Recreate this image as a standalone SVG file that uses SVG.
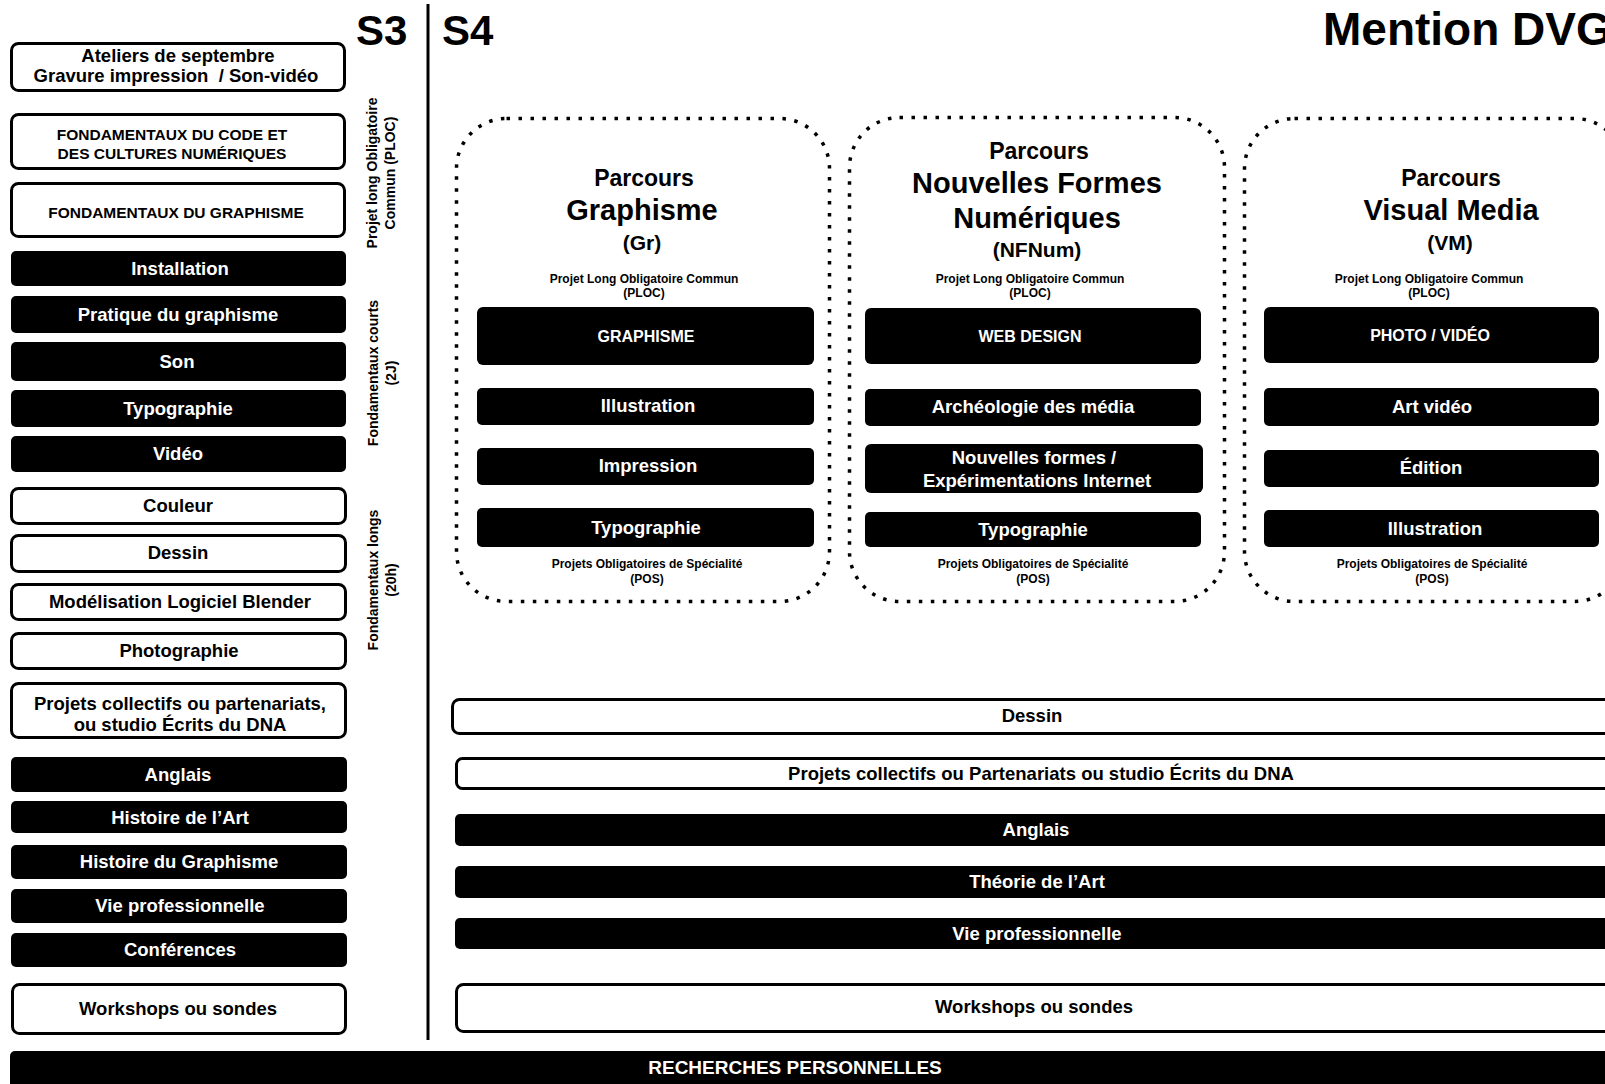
<svg xmlns="http://www.w3.org/2000/svg" width="1605" height="1084" viewBox="0 0 1605 1084">
<style>
text { font-family: "Liberation Sans", Arial, sans-serif; font-weight: bold; text-anchor: middle; fill: #000; }
.w { fill: #fff; stroke: #000; stroke-width: 3; }
.b { fill: #000; }
.l { font-size: 18.5px; }
.c { font-size: 15.5px; }
.s { font-size: 12px; }
.i { font-size: 16px; }
.wt { fill: #fff; }
.rot { font-size: 14px; }
.big { font-size: 42px; text-anchor: start; }
.dot { fill: none; stroke: #000; stroke-width: 3.5; stroke-dasharray: 3.5 8.5; }
.p1 { font-size: 23px; }
.p2 { font-size: 29px; }
.p3 { font-size: 21px; }
</style>
<rect width="1605" height="1084" fill="#fff"/>

<g id="titles">
<text class="big" x="356" y="45">S3</text>
<text class="big" x="442" y="45">S4</text>
<text class="big" x="1323" y="45" style="font-size:46px">Mention DVG</text>
</g>

<g id="connectors">
<line x1="428" y1="4" x2="428" y2="1040" stroke="#000" stroke-width="3"/>
</g>

<g id="side-labels">
<text class="rot" transform="translate(377,173) rotate(-90)">Projet long Obligatoire</text>
<text class="rot" transform="translate(395,173) rotate(-90)">Commun (PLOC)</text>
<text class="rot" transform="translate(378,373) rotate(-90)">Fondamentaux courts</text>
<text class="rot" transform="translate(396,373) rotate(-90)">(2J)</text>
<text class="rot" transform="translate(378,580) rotate(-90)">Fondamentaux longs</text>
<text class="rot" transform="translate(396,580) rotate(-90)">(20h)</text>
</g>

<!-- S3 column -->
<g id="ateliers"><rect class="w" x="11.5" y="43.5" width="333" height="47" rx="7"/><text class="l" x="178" y="62">Ateliers de septembre</text><text class="l" x="176" y="82" xml:space="preserve">Gravure impression  / Son-vidéo</text></g>
<g id="fond-code"><rect class="w" x="11.5" y="114.5" width="333" height="54" rx="7"/><text class="c" x="172" y="140">FONDAMENTAUX DU CODE ET</text><text class="c" x="172" y="159">DES CULTURES NUMÉRIQUES</text></g>
<g id="fond-graph"><rect class="w" x="11.5" y="183.5" width="333" height="53" rx="7"/><text class="c" x="176" y="218">FONDAMENTAUX DU GRAPHISME</text></g>
<g id="installation"><rect class="b" x="11" y="251" width="335" height="35" rx="5"/><text class="l wt" x="180" y="275">Installation</text></g>
<g id="pratique"><rect class="b" x="11" y="296" width="335" height="37" rx="5"/><text class="l wt" x="178" y="321">Pratique du graphisme</text></g>
<g id="son"><rect class="b" x="11" y="342" width="335" height="39" rx="5"/><text class="l wt" x="177" y="368">Son</text></g>
<g id="typo-s3"><rect class="b" x="11" y="390" width="335" height="37" rx="5"/><text class="l wt" x="178" y="415">Typographie</text></g>
<g id="video"><rect class="b" x="11" y="436" width="335" height="36" rx="5"/><text class="l wt" x="178" y="460">Vidéo</text></g>
<g id="couleur"><rect class="w" x="11.5" y="488.5" width="334" height="35" rx="7"/><text class="l" x="178" y="512">Couleur</text></g>
<g id="dessin-s3"><rect class="w" x="11.5" y="535.5" width="334" height="36" rx="7"/><text class="l" x="178" y="559">Dessin</text></g>
<g id="blender"><rect class="w" x="11.5" y="584.5" width="334" height="35" rx="7"/><text class="l" x="180" y="608">Modélisation Logiciel Blender</text></g>
<g id="photo-s3"><rect class="w" x="11.5" y="633.5" width="334" height="35" rx="7"/><text class="l" x="179" y="657">Photographie</text></g>
<g id="projets-s3"><rect class="w" x="11.5" y="683.5" width="334" height="54" rx="7"/><text class="l" x="180" y="710">Projets collectifs ou partenariats,</text><text class="l" x="180" y="731">ou studio Écrits du DNA</text></g>
<g id="anglais-s3"><rect class="b" x="11" y="757" width="336" height="35" rx="5"/><text class="l wt" x="178" y="781">Anglais</text></g>
<g id="hda"><rect class="b" x="11" y="801" width="336" height="32" rx="5"/><text class="l wt" x="180" y="824">Histoire de l’Art</text></g>
<g id="hdg"><rect class="b" x="11" y="845" width="336" height="34" rx="5"/><text class="l wt" x="179" y="868">Histoire du Graphisme</text></g>
<g id="viepro-s3"><rect class="b" x="11" y="889" width="336" height="34" rx="5"/><text class="l wt" x="180" y="912">Vie professionnelle</text></g>
<g id="conf"><rect class="b" x="11" y="933" width="336" height="34" rx="5"/><text class="l wt" x="180" y="956">Conférences</text></g>
<g id="workshops-s3"><rect class="w" x="12.5" y="984.5" width="333" height="49" rx="7"/><text class="l" x="178" y="1015">Workshops ou sondes</text></g>

<!-- Parcours Graphisme -->
<g id="parcours-gr">
<rect class="dot" x="456.5" y="118.5" width="373" height="483" rx="50"/>
<text class="p1" x="644" y="186">Parcours</text>
<text class="p2" x="642" y="220">Graphisme</text>
<text class="p3" x="642" y="250">(Gr)</text>
<text class="s" x="644" y="283">Projet Long Obligatoire Commun</text>
<text class="s" x="644" y="297">(PLOC)</text>
<rect class="b" x="477" y="307" width="337" height="58" rx="6"/><text class="i wt" x="646" y="342">GRAPHISME</text>
<rect class="b" x="477" y="388" width="337" height="37" rx="5"/><text class="l wt" x="648" y="412">Illustration</text>
<rect class="b" x="477" y="448" width="337" height="37" rx="5"/><text class="l wt" x="648" y="472">Impression</text>
<rect class="b" x="477" y="508" width="337" height="39" rx="5"/><text class="l wt" x="646" y="534">Typographie</text>
<text class="s" x="647" y="568">Projets Obligatoires de Spécialité</text>
<text class="s" x="647" y="583">(POS)</text>
</g>

<!-- Parcours NFNum -->
<g id="parcours-nfnum">
<rect class="dot" x="849.5" y="117.5" width="375" height="484" rx="50"/>
<text class="p1" x="1039" y="159">Parcours</text>
<text class="p2" x="1037" y="193">Nouvelles Formes</text>
<text class="p2" x="1037" y="228">Numériques</text>
<text class="p3" x="1037" y="257">(NFNum)</text>
<text class="s" x="1030" y="283">Projet Long Obligatoire Commun</text>
<text class="s" x="1030" y="297">(PLOC)</text>
<rect class="b" x="865" y="308" width="336" height="56" rx="6"/><text class="i wt" x="1030" y="342">WEB DESIGN</text>
<rect class="b" x="865" y="389" width="336" height="37" rx="5"/><text class="l wt" x="1033" y="413">Archéologie des média</text>
<rect class="b" x="865" y="444" width="338" height="49" rx="6"/><text class="l wt" x="1034" y="464">Nouvelles formes /</text><text class="l wt" x="1037" y="487">Expérimentations Internet</text>
<rect class="b" x="865" y="512" width="336" height="35" rx="5"/><text class="l wt" x="1033" y="536">Typographie</text>
<text class="s" x="1033" y="568">Projets Obligatoires de Spécialité</text>
<text class="s" x="1033" y="583">(POS)</text>
</g>

<!-- Parcours VM -->
<g id="parcours-vm">
<rect class="dot" x="1244.5" y="118.5" width="380" height="483" rx="50"/>
<text class="p1" x="1451" y="186">Parcours</text>
<text class="p2" x="1451" y="220">Visual Media</text>
<text class="p3" x="1450" y="250">(VM)</text>
<text class="s" x="1429" y="283">Projet Long Obligatoire Commun</text>
<text class="s" x="1429" y="297">(PLOC)</text>
<rect class="b" x="1264" y="307" width="335" height="56" rx="6"/><text class="i wt" x="1430" y="341">PHOTO / VIDÉO</text>
<rect class="b" x="1264" y="388" width="335" height="38" rx="5"/><text class="l wt" x="1432" y="413">Art vidéo</text>
<rect class="b" x="1264" y="450" width="335" height="37" rx="5"/><text class="l wt" x="1431" y="474">Édition</text>
<rect class="b" x="1264" y="510" width="335" height="37" rx="5"/><text class="l wt" x="1435" y="535">Illustration</text>
<text class="s" x="1432" y="568">Projets Obligatoires de Spécialité</text>
<text class="s" x="1432" y="583">(POS)</text>
</g>

<!-- S4 common bars -->
<g id="dessin-s4"><rect class="w" x="452.5" y="699.5" width="1180" height="34" rx="7"/><text class="l" x="1032" y="722">Dessin</text></g>
<g id="projets-s4"><rect class="w" x="456.5" y="758.5" width="1180" height="30" rx="6"/><text class="l" x="1041" y="780">Projets collectifs ou Partenariats ou studio Écrits du DNA</text></g>
<g id="anglais-s4"><rect class="b" x="455" y="814" width="1180" height="32" rx="5"/><text class="l wt" x="1036" y="836">Anglais</text></g>
<g id="theorie"><rect class="b" x="455" y="866" width="1180" height="32" rx="5"/><text class="l wt" x="1037" y="888">Théorie de l’Art</text></g>
<g id="viepro-s4"><rect class="b" x="455" y="918" width="1180" height="31" rx="5"/><text class="l wt" x="1037" y="940">Vie professionnelle</text></g>
<g id="workshops-s4"><rect class="w" x="456.5" y="984.5" width="1180" height="47" rx="7"/><text class="l" x="1034" y="1013">Workshops ou sondes</text></g>
<g id="recherches"><rect class="b" x="10" y="1051" width="1620" height="40" rx="5"/><text class="wt" x="795" y="1074" style="font-size:19px">RECHERCHES PERSONNELLES</text></g>
</svg>
